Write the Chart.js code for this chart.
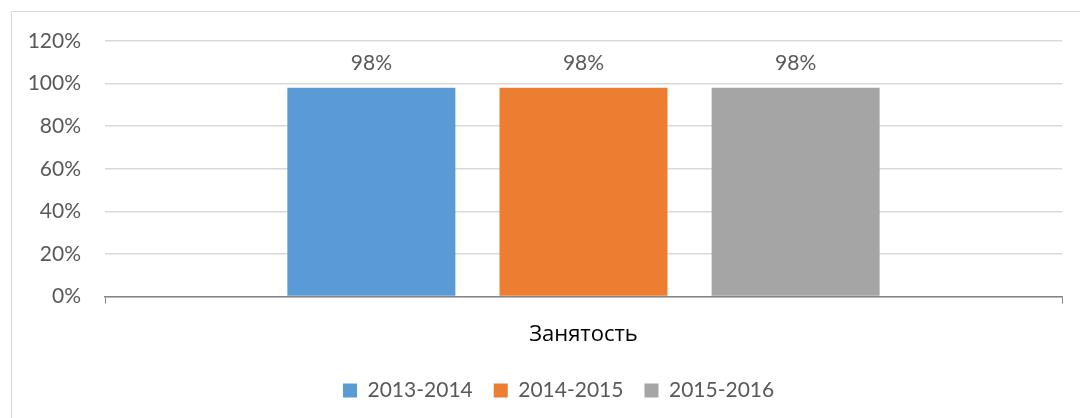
<!DOCTYPE html>
<html>
<head>
<meta charset="utf-8">
<script src="https://cdn.jsdelivr.net/npm/chart.js@4"></script>
<style>
  html, body { margin: 0; padding: 0; background: #fff; }
  #wrap { position: relative; width: 1080px; height: 418px; overflow: hidden; }
  #frame { position: absolute; left: 11px; top: 11px; width: 1100px; height: 440px; border: 1px solid #d9d9d9; box-sizing: border-box; }
  #chart { position: absolute; left: 0; top: 0; }
</style>
</head>
<body>
<div id="wrap">
  <div id="frame"></div>
  <canvas id="chart" width="1080" height="418"></canvas>
</div>
<script>
// data
const categories = ['Занятость'];
const seriesNames = ['2013-2014', '2014-2015', '2015-2016'];
const seriesValues = [[0.98], [0.98], [0.98]];
const seriesColors = ['#5B9BD5', '#ED7D31', '#A5A5A5'];
const yTicks = [0, 0.2, 0.4, 0.6, 0.8, 1.0, 1.2];

const textColor = '#595959';
const fontFamily = 'Lato, "Open Sans", sans-serif';

// draws the "98%" labels over each bar
const barLabels = {
    id: 'barLabels',
    afterDatasetsDraw(chart) {
        const ctx = chart.ctx;
        ctx.save();
        ctx.fillStyle = textColor;
        ctx.font = '21px ' + fontFamily;
        ctx.textAlign = 'center';
        ctx.textBaseline = 'alphabetic';
        chart.data.datasets.forEach((ds, i) => {
            chart.getDatasetMeta(i).data.forEach((bar, j) => {
                ctx.fillText(Math.round(ds.data[j] * 100) + '%', bar.x, bar.y - 18);
            });
        });
        ctx.restore();
    }
};

// the legend in the original sits right of and below where chart.js puts it
const legendShift = {
    id: 'legendShift',
    afterLayout(chart) {
        const lg = chart.legend;
        const pad = lg.options.labels.padding;
        const startX = (lg.left + pad + lg.right - lg.lineWidths[0]) / 2;
        const dx = 343 - startX;
        lg.left += dx;
        lg.right += dx;
        const dy = 392 - (lg.top + pad + 12);
        lg.top += dy;
        lg.bottom += dy;
    }
};

const ctx = document.getElementById('chart').getContext('2d');
new Chart(ctx, {
    type: 'bar',
    data: {
        labels: categories,
        datasets: seriesNames.map((name, i) => ({
            label: name,
            data: seriesValues[i],
            backgroundColor: seriesColors[i],
            borderWidth: 0,
            categoryPercentage: 0.665,
            barPercentage: 0.792
        }))
    },
    options: {
        responsive: false,
        animation: false,
        layout: { padding: { top: 41, right: 18, bottom: 0, left: 0 } },
        scales: {
            y: {
                min: 0,
                max: 1.2,
                afterFit: (scale) => { scale.width = 105; },
                afterBuildTicks: (scale) => { scale.ticks = yTicks.map(v => ({ value: v })); },
                ticks: {
                    color: textColor,
                    font: { family: fontFamily, size: 21 },
                    padding: 24,
                    callback: (v) => Math.round(v * 100) + '%'
                },
                grid: { color: '#d9d9d9', lineWidth: 1.5, drawTicks: false },
                border: { display: false }
            },
            x: {
                ticks: {
                    color: '#000',
                    font: { family: '"Open Sans", Lato, sans-serif', size: 22 },
                    padding: 18
                },
                grid: { drawOnChartArea: false, drawTicks: true, tickLength: 7, color: '#868686' },
                border: { color: '#868686', width: 1.5 }
            }
        },
        plugins: {
            tooltip: { enabled: false },
            legend: {
                position: 'bottom',
                labels: {
                    color: textColor,
                    font: { family: fontFamily, size: 21 },
                    boxWidth: 14,
                    boxHeight: 14,
                    padding: 21
                }
            }
        }
    },
    plugins: [barLabels, legendShift]
});
</script>
</body>
</html>
